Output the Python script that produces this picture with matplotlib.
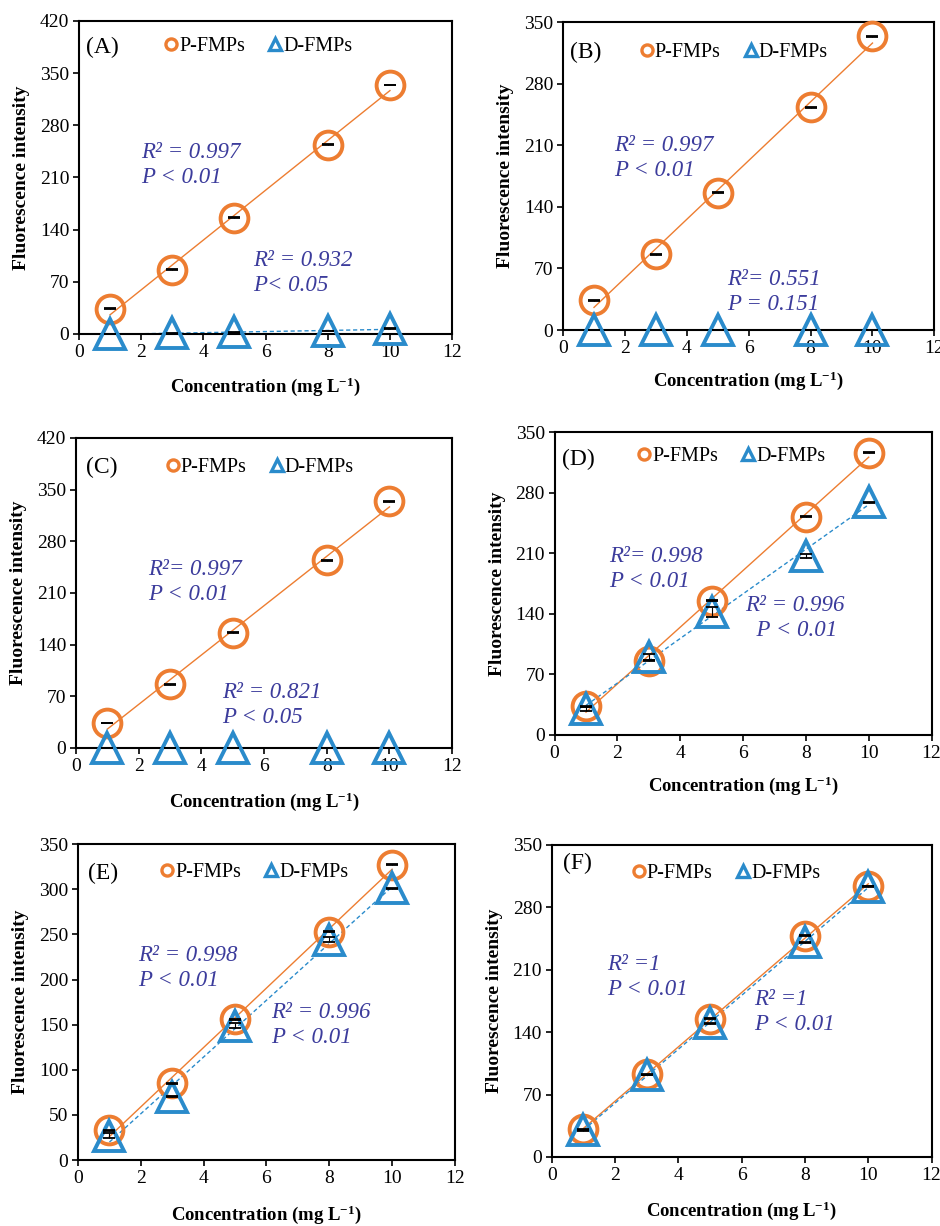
#!/usr/bin/env python3
"""Fluorescence intensity vs concentration, six panels (A-F)."""

import matplotlib
matplotlib.use("Agg")
import matplotlib.pyplot as plt
import numpy as np

plt.rcParams["font.family"] = ["Liberation Serif", "DejaVu Serif"]
plt.rcParams["mathtext.fontset"] = "custom"
plt.rcParams["mathtext.rm"] = "Liberation Serif"
plt.rcParams["mathtext.bf"] = "Liberation Serif:bold"
plt.rcParams["mathtext.it"] = "Liberation Serif:italic"

ORANGE = "#ED7D31"
BLUE = "#2A8BCB"
TEXT_BLUE = "#3C3C9C"

conc = [1, 3, 5, 8, 10]
panel_names = ["(A)", "(B)", "(C)", "(D)", "(E)", "(F)"]

p_a = [34, 86, 156, 254, 334]
d_a = [0, 1, 2, 4, 7]
p_b = [34, 86, 156, 253, 334]
d_b = [0, 0, 0, 0, 0]
p_c = [34, 86, 156, 254, 334]
d_c = [0, 0, 0, 0, 0]
p_d = [33, 86, 155, 252, 326]
d_d = [30, 90, 142, 207, 269]
p_e = [33, 85, 156, 253, 327]
d_e = [27, 70, 149, 244, 301]
p_f = [31, 93, 155, 248, 304]
d_f = [30, 92, 150, 241, 303]

p_err = [0.5, 0.5, 0.5, 0.5, 0.5]
d_err_small = [0.5, 0.5, 0.5, 0.5, 0.5]
d_err_d = [2, 3, 6, 2, 0.5]
d_err_e = [3, 0.5, 3, 3, 0.5]

p_series = [p_a, p_b, p_c, p_d, p_e, p_f]
d_series = [d_a, d_b, d_c, d_d, d_e, d_f]
d_errs = [d_err_small, d_err_small, d_err_small, d_err_d, d_err_e, d_err_small]

y_max = [420, 350, 420, 350, 350, 350]
y_step = [70, 70, 70, 70, 50, 70]

p_labels = ["R² = 0.997\nP < 0.01", "R² = 0.997\nP < 0.01", "R²= 0.997\nP < 0.01",
            "R²= 0.998\nP < 0.01", "R² = 0.998\nP < 0.01", "R² =1\nP < 0.01"]
d_labels = ["R² = 0.932\nP< 0.05", "R²= 0.551\nP = 0.151", "R² = 0.821\nP < 0.05",
            "R² = 0.996\n  P < 0.01", "R² = 0.996\nP < 0.01", "R² =1\nP < 0.01"]
p_label_pos = [(2.0, 258), (1.65, 222), (2.3, 256), (1.75, 218), (1.9, 238), (1.75, 228)]
d_label_pos = [(5.6, 112), (5.3, 69), (4.65, 90), (6.05, 162), (6.15, 175), (6.4, 188)]

# axes boxes in figure fractions [left, bottom, width, height]
boxes = [
    [0.084, 0.7276, 0.397, 0.2553],
    [0.599, 0.7308, 0.395, 0.2512],
    [0.081, 0.3899, 0.400, 0.2529],
    [0.590, 0.4005, 0.401, 0.2471],
    [0.083, 0.0538, 0.401, 0.2577],
    [0.587, 0.0563, 0.404, 0.2545],
]
panel_pos = [(0.02, 0.95), (0.02, 0.935), (0.027, 0.94), (0.02, 0.945), (0.027, 0.94), (0.03, 0.975)]
legend_pos = [(0.482, 0.917), (0.461, 0.90), (0.49, 0.906), (0.47, 0.92), (0.469, 0.911), (0.46, 0.91)]
xlabel_pad = [11, 9, 11, 9, 12, 11]


def draw_panel(fig, i):
    ax = fig.add_axes(boxes[i])
    x = np.array(conc, dtype=float)
    p = np.array(p_series[i], dtype=float)
    d = np.array(d_series[i], dtype=float)

    # trendlines
    xs = np.array([x.min(), x.max()])
    kp = np.polyfit(x, p, 1)
    kd = np.polyfit(x, d, 1)
    ax.plot(xs, np.polyval(kp, xs), color=ORANGE, lw=1.0, zorder=2)
    ax.plot(xs, np.polyval(kd, xs), color=BLUE, lw=1.0, ls=(0, (3, 2)), zorder=2)

    ax.plot(x, p, "o", ms=20, mfc="none", mec=ORANGE, mew=2.8, clip_on=False, zorder=4)
    ax.plot(x, d, "^", ms=21, mfc="none", mec=BLUE, mew=2.8, clip_on=False, zorder=5)
    ax.errorbar(x, p, yerr=p_err, fmt="none", ecolor="black", elinewidth=0.8,
                capsize=4, capthick=1.3, clip_on=False, zorder=6)
    ax.errorbar(x, d, yerr=d_errs[i], fmt="none", ecolor="black", elinewidth=0.8,
                capsize=4, capthick=1.3, clip_on=False, zorder=6)

    ax.set_xlim(0, 12)
    ax.set_ylim(0, y_max[i])
    ax.set_xticks(range(0, 13, 2))
    ax.set_yticks(range(0, y_max[i] + 1, y_step[i]))
    ax.tick_params(direction="out", length=4, width=1.2, labelsize=14, pad=3)
    for s in ax.spines.values():
        s.set_linewidth(1.5)

    ax.set_ylabel("Fluorescence intensity", fontsize=14, fontweight="bold", labelpad=7)
    ax.set_xlabel(r"Concentration (mg L$^{\mathbf{-1}}$)", fontsize=13.5, fontweight="bold",
                  labelpad=xlabel_pad[i])

    ax.text(*panel_pos[i], panel_names[i], transform=ax.transAxes, fontsize=17,
            va="top", ha="left")

    ax.text(*p_label_pos[i], p_labels[i], color=TEXT_BLUE, fontsize=16.5, style="italic",
            va="top", ha="left", linespacing=1.25)
    ax.text(*d_label_pos[i], d_labels[i], color=TEXT_BLUE, fontsize=16.5, style="italic",
            va="top", ha="left", linespacing=1.25)

    hp, = ax.plot([], [], "o", ms=8, mfc="none", mec=ORANGE, mew=2.4)
    hd, = ax.plot([], [], "^", ms=8, mfc="none", mec=BLUE, mew=2.4)
    ax.legend([hp, hd], ["P-FMPs", "D-FMPs"], loc="center", bbox_to_anchor=legend_pos[i],
              ncol=2, frameon=False, fontsize=14.5, handlelength=0.6, handletextpad=0.1,
              columnspacing=1.2, borderpad=0)


def main():
    fig = plt.figure(figsize=(9.4, 12.26), dpi=100)
    for i in range(6):
        draw_panel(fig, i)
    fig.savefig("out.png", dpi=100)
    plt.close(fig)


if __name__ == "__main__":
    main()
